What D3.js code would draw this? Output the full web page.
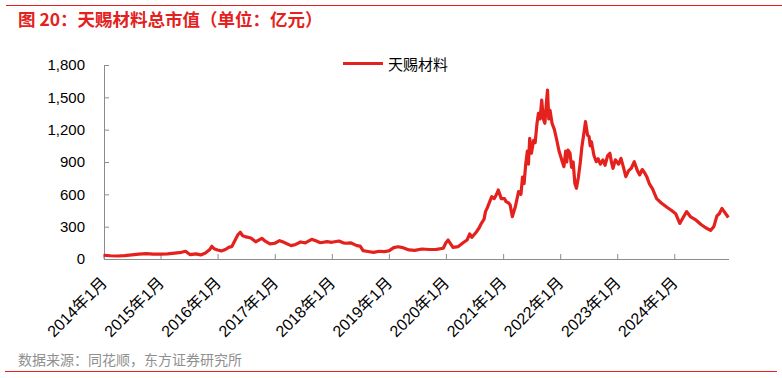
<!DOCTYPE html>
<html><head><meta charset="utf-8">
<script src="https://cdn.jsdelivr.net/npm/d3@7/dist/d3.min.js"></script>
<style>
body{margin:0;background:#fff;}
svg{display:block;}
text{font-family:"Liberation Sans","Noto Sans CJK SC",sans-serif;}
</style></head>
<body><svg id="c" width="782" height="378"></svg>
<script>
const titleText = "图 20：天赐材料总市值（单位：亿元）";
const sourceText = "数据来源：同花顺，东方证券研究所";
const seriesName = "天赐材料";
const yTicks = [0,300,600,900,1200,1500,1800];
const xTickYears = [2014,2015,2016,2017,2018,2019,2020,2021,2022,2023,2024];
const xTickLabels = xTickYears.map(y => y + "年1月");
const dates = [
"2014-01-02","2014-02-15","2014-04-01","2014-05-15","2014-07-01","2014-08-15","2014-10-01","2014-11-15",
"2015-01-01","2015-02-15","2015-04-01","2015-05-15","2015-06-10","2015-07-10","2015-08-15","2015-09-15","2015-10-15","2015-11-10","2015-11-25","2015-12-10",
"2016-01-01","2016-01-25","2016-02-20","2016-03-15","2016-04-01","2016-04-20","2016-05-10","2016-05-25","2016-06-10","2016-07-01","2016-08-01","2016-09-01","2016-09-20","2016-10-10","2016-11-01","2016-12-01",
"2017-01-01","2017-02-01","2017-02-20","2017-04-15","2017-05-15","2017-06-15","2017-07-15","2017-08-25","2017-09-20","2017-10-20","2017-12-01",
"2018-01-01","2018-02-15","2018-03-15","2018-04-01","2018-05-01","2018-06-10","2018-07-01","2018-07-20","2018-08-20","2018-09-25","2018-11-01","2018-12-01",
"2019-01-01","2019-02-01","2019-03-01","2019-04-01","2019-05-10","2019-06-15","2019-08-01","2019-09-15","2019-11-01","2019-12-15",
"2020-01-01","2020-01-15","2020-02-15","2020-03-20","2020-04-20","2020-05-15","2020-06-01","2020-06-15","2020-07-15","2020-08-01","2020-08-15","2020-09-01","2020-09-10","2020-09-20","2020-10-01","2020-10-20","2020-11-05","2020-11-20","2020-12-01","2020-12-20",
"2021-01-10","2021-01-20","2021-02-05","2021-02-15","2021-03-01","2021-03-20","2021-04-10","2021-04-25","2021-05-05","2021-05-15","2021-05-25","2021-06-05","2021-06-12","2021-06-20","2021-07-01","2021-07-15","2021-07-25","2021-08-05","2021-08-15","2021-08-25","2021-09-05","2021-09-15","2021-09-25","2021-10-05","2021-10-12","2021-10-20","2021-10-28","2021-11-10","2021-11-25","2021-12-10","2021-12-25",
"2022-01-05","2022-01-15","2022-01-25","2022-02-05","2022-02-12","2022-02-20","2022-03-05","2022-03-15","2022-03-25","2022-04-05","2022-04-15","2022-04-28","2022-05-10","2022-05-20","2022-06-05","2022-06-12","2022-06-25","2022-07-05","2022-07-12","2022-07-20","2022-08-05","2022-08-20","2022-09-01","2022-09-15","2022-10-01","2022-10-15","2022-11-01","2022-11-15","2022-11-25","2022-12-05","2022-12-20",
"2023-01-10","2023-01-25","2023-02-10","2023-02-25","2023-03-15","2023-04-01","2023-04-20","2023-05-10","2023-05-25","2023-06-10","2023-06-25","2023-07-10","2023-07-25","2023-08-15","2023-09-10","2023-10-10","2023-11-15","2023-12-15",
"2024-01-10","2024-02-05","2024-02-25","2024-03-20","2024-04-15","2024-05-20","2024-06-20","2024-07-20","2024-08-20","2024-09-10","2024-09-30","2024-10-15","2024-11-01","2024-11-20","2024-12-12"
];
const values = [
35,30,28,32,38,45,50,46,
45,48,55,62,72,40,48,38,55,85,118,95,
84,75,88,110,115,170,225,248,215,205,195,160,175,192,165,140,
146,170,160,124,135,158,150,183,170,151,161,
155,167,150,146,150,124,120,77,70,62,72,68,
75,105,114,105,84,80,93,88,90,100,
151,176,108,115,151,176,232,201,253,290,331,370,439,470,510,578,560,600,640,560,
560,532,520,501,393,485,625,600,760,700,872,1000,880,1120,981,1100,1080,1250,1352,1300,1475,1300,1259,1450,1568,1300,1380,1259,1200,1104,1000,
949,900,857,1000,900,1011,980,850,900,700,656,764,900,1042,1200,1274,1150,1135,1050,1088,960,903,930,880,919,870,960,981,900,842,920,
880,934,850,764,820,842,903,820,780,830,800,760,700,650,560,520,480,450,
420,330,380,440,390,360,320,290,265,300,400,420,470,430,385
];

const parse = d3.timeParse("%Y-%m-%d");
const data = dates.map((d,i) => ({date: parse(d), value: values[i]}));

const red = "#e4211c";
const axisGrey = "#8c8c8c";
const svg = d3.select("#c");

// top and bottom rules
svg.append("line").attr("x1",6).attr("x2",782).attr("y1",5.5).attr("y2",5.5).attr("stroke",red).attr("stroke-width",1.2);
svg.append("line").attr("x1",5).attr("x2",777).attr("y1",371.5).attr("y2",371.5).attr("stroke",red).attr("stroke-width",1.2);

svg.append("text").attr("x",18).attr("y",26).attr("fill",red).attr("font-size",17.5).attr("font-weight","bold")
  .style("font-family","'Noto Sans CJK SC',sans-serif").text(titleText);
svg.append("text").attr("x",18).attr("y",365).attr("fill","#8f8f8f").attr("font-size",14)
  .style("font-family","'Noto Sans CJK SC',sans-serif").text(sourceText);

const x = d3.scaleTime().domain([parse("2014-01-01"), parse("2024-12-13")]).range([103.5, 728.5]);
const y = d3.scaleLinear().domain([0,1800]).range([259,65]);

// y axis
const gy = svg.append("g").attr("transform","translate(104,0)")
  .call(d3.axisLeft(y).tickValues(yTicks).tickFormat(d3.format(",")).tickSizeInner(-5).tickSizeOuter(0).tickPadding(19));
gy.select(".domain").attr("stroke",axisGrey);
gy.selectAll(".tick line").attr("stroke",axisGrey);
gy.selectAll("text").attr("font-size",15).attr("fill","#000").style("font-family","'Liberation Sans',sans-serif");

// x axis
const xTickDates = xTickYears.map(yr => new Date(yr,0,1));
const gx = svg.append("g").attr("transform","translate(0,259)")
  .call(d3.axisBottom(x).tickValues(xTickDates).tickFormat((d,i) => xTickLabels[i]).tickSizeInner(-5).tickSizeOuter(0));
gx.select(".domain").attr("stroke",axisGrey);
gx.selectAll(".tick line").attr("stroke",axisGrey);
gx.selectAll("text").attr("font-size",16).attr("fill","#000")
  .attr("x",0).attr("y",0).attr("dy",0).attr("text-anchor","end")
  .attr("transform","translate(4,25) rotate(-45)");

// line
const line = d3.line().x(d => x(d.date)).y(d => y(d.value));
svg.append("path").datum(data).attr("d",line).attr("fill","none").attr("stroke",red)
  .attr("stroke-width",3.2).attr("stroke-linejoin","round");

// legend
svg.append("line").attr("x1",343).attr("x2",383).attr("y1",63.5).attr("y2",63.5).attr("stroke",red).attr("stroke-width",3);
svg.append("text").attr("x",388).attr("y",69.5).attr("font-size",15).attr("fill","#000")
  .style("font-family","'Noto Sans CJK SC',sans-serif").text(seriesName);
</script></body></html>
